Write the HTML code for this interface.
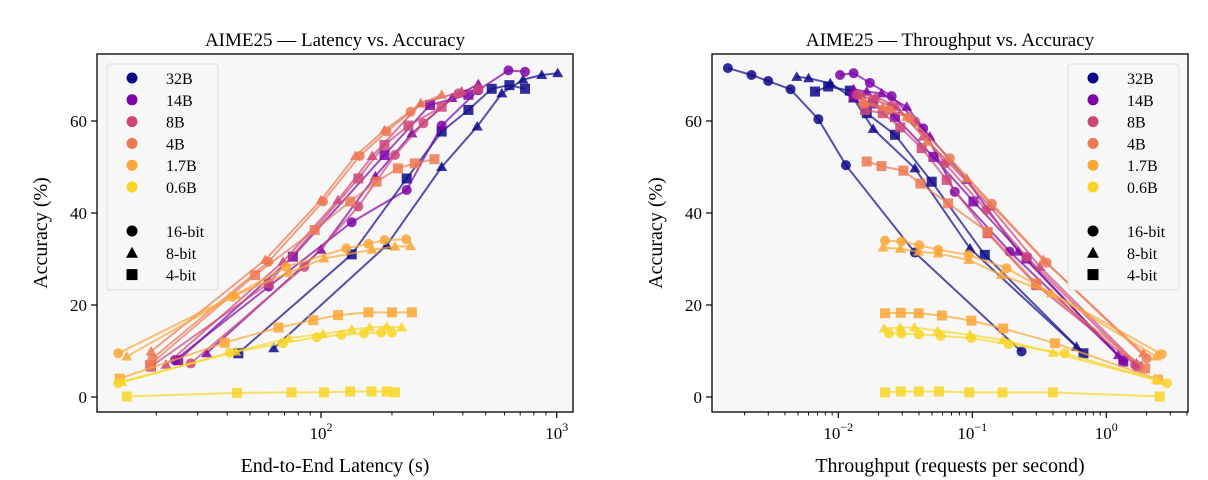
<!DOCTYPE html>
<html><head><meta charset="utf-8">
<style>
body{margin:0;background:#fff;}
svg{display:block;font-family:"Liberation Serif","DejaVu Serif",serif;}
</style></head>
<body>
<svg id="chart" width="1208" height="480" viewBox="0 0 1208 480"></svg>
<script>
// ---------- data ----------
const models = ["32B","14B","8B","4B","1.7B","0.6B"];
const bits = ["16-bit","8-bit","4-bit"];
const modelColors = ["#0d0887","#7e03a8","#cc4778","#ed7953","#fca636","#f8d527"];
const yTicks = [0,20,40,60];

// Latency (s) and accuracy (%) per model/bit: [latency, accuracy]
const latency_32B_16 = [];
const latency_32B_8 = [[63,10.6],[190,33],[325,50],[460,58.8],[585,66],[720,69],[864,70],[1010,70.4]];
const latency_32B_4 = [[44.6,9.5],[135,31],[231,47.5],[325,57.7],[422,62.4],[530,67],[630,67.8],[734,67]];
const latency_14B_16 = [[24,8],[60,24],[135,38],[231,45],[325,59],[465,66.7],[624,71],[734,70.7]];
const latency_14B_8 = [[32.7,9.5],[100,32],[170,48],[243,57.3],[360,65],[465,68]];
const latency_14B_4 = [[24.8,8],[76,30.5],[186,52.6],[290,63.5],[422,65.7]];
const latency_8B_16 = [[28,7.3],[85,28.3],[144,41.4],[206,52.6],[272,59.5],[383,66],[465,67]];
const latency_8B_8 = [[22,7],[69,29.4],[118,42.8],[165,52.4],[265,63.8],[395,66.4]];
const latency_8B_4 = [[19,6.6],[60,24.7],[144,47.5],[186,54.8],[235,59],[325,63.1]];
const latency_4B_16 = [[19.3,8.4],[59.8,29.4],[102,42.5],[146,52.4],[190,57.7],[240,62]];
const latency_4B_8 = [[19,9.9],[58,29.8],[100,42.8],[140,52.4],[186,58],[265,63.8],[325,65.7]];
const latency_4B_4 = [[18.8,7],[52.5,26.5],[94,36.3],[133,42.5],[172,46.8],[212,49.7],[250,50.8],[303,51.7]];
const latency_17B_16 = [[13.8,9.5],[42,21.8],[71,28.3],[128,32.3],[159,33.3],[186,34.1],[230,34.3]];
const latency_17B_8 = [[15,8.8],[43.5,22.2],[73,27],[103,30.1],[165,32],[206,32.7],[240,32.8]];
const latency_17B_4 = [[14,4],[39,11.8],[66,15.1],[92.7,16.7],[118,17.8],[159,18.4],[200,18.4],[243,18.4]];
const latency_06B_16 = [[13.8,3],[41,9.6],[69,11.7],[96,13],[122,13.5],[152,13.8],[180,14],[200,14]];
const latency_06B_8 = [[14.3,3.3],[43.5,9.9],[73,12.8],[102,13.7],[135,14.7],[161,15.1],[190,15.3],[220,15.1]];
const latency_06B_4 = [[15,0.1],[44,0.9],[75,1],[103,1],[133,1.2],[164,1.2],[190,1.2],[206,1]];

// Throughput (req/s) and accuracy (%)
const thr_32B_16 = [[0.0015,71.5],[0.00225,70],[0.003,68.7],[0.0044,66.9],[0.0071,60.4],[0.0114,50.4],[0.0373,31.4],[0.233,9.9]];
const thr_32B_8 = [[0.0049,69.6],[0.006,69.3],[0.0087,68.2],[0.013,64.9],[0.0182,58.3],[0.0373,49.7],[0.096,32.3],[0.6,10.9]];
const thr_32B_4 = [[0.0067,66.4],[0.0084,67.5],[0.0122,66.6],[0.0163,61.7],[0.0265,57],[0.0498,46.8],[0.124,30.9],[0.675,9.5]];
const thr_14B_16 = [[0.0103,70],[0.013,70.4],[0.0172,68.3],[0.025,65.4],[0.043,58.4],[0.074,44.6],[0.19,31.6],[1.34,8]];
const thr_14B_8 = [[0.013,66.9],[0.0163,66.4],[0.021,66],[0.0324,63.1],[0.0483,56.6],[0.091,47.2],[0.22,31.6],[1.23,9.1]];
const thr_14B_4 = [[0.013,65.3],[0.0182,63.8],[0.0265,60.9],[0.0513,52.2],[0.102,42.5],[0.254,30.1],[1.34,7.7]];
const thr_8B_16 = [[0.0137,65.7],[0.0182,64.6],[0.025,63.3],[0.0373,59.9],[0.0625,50.8],[0.127,40.7],[0.254,30.5],[1.64,7]];
const thr_8B_8 = [[0.0148,65.7],[0.019,65.3],[0.0272,63.1],[0.0429,56.6],[0.0644,51.4],[0.136,41.4],[0.32,28.3],[1.68,7.3]];
const thr_8B_4 = [[0.0158,62.4],[0.0215,61.7],[0.029,58.6],[0.0419,54.1],[0.0644,47.2],[0.13,35.6],[0.3,24.3],[1.72,6.6]];
const thr_4B_16 = [[0.0154,63.8],[0.024,62.4],[0.034,60.6],[0.068,51.9],[0.14,42],[0.359,29.2],[2.0,8.4]];
const thr_4B_8 = [[0.0154,64.2],[0.0215,63.1],[0.0324,60.9],[0.046,55.5],[0.091,47.5],[0.339,29.8],[1.89,9.5]];
const thr_4B_4 = [[0.0163,51.2],[0.021,50.2],[0.0306,49.2],[0.041,46.4],[0.066,42.1],[0.13,35.9],[0.3,24.7],[1.95,6.2]];
const thr_17B_16 = [[0.0223,34],[0.0296,33.8],[0.0402,33],[0.0557,32],[0.094,30.9],[0.18,28],[2.59,9.3]];
const thr_17B_8 = [[0.0216,32.5],[0.029,32.2],[0.0398,31.6],[0.0557,31.2],[0.094,29.8],[0.165,26.5],[0.39,22.5],[2.36,8.8]];
const thr_17B_4 = [[0.0223,18.2],[0.0292,18.3],[0.0398,18.2],[0.0593,17.7],[0.0985,16.6],[0.17,14.9],[0.414,11.7],[2.44,3.8]];
const thr_06B_16 = [[0.0239,13.8],[0.0296,13.8],[0.04,13.6],[0.058,13.3],[0.0985,12.8],[0.186,11.5],[0.49,9.5],[2.84,3]];
const thr_06B_8 = [[0.022,14.9],[0.029,15.1],[0.037,15.1],[0.0552,14.4],[0.096,13.5],[0.17,12.4],[0.4,9.6],[2.36,3.7]];
const thr_06B_4 = [[0.0223,1],[0.0292,1.2],[0.0398,1.2],[0.0563,1.2],[0.095,1],[0.168,1],[0.4,1],[2.5,0.1]];

const latencySeries = [
 [latency_32B_16,latency_32B_8,latency_32B_4],[latency_14B_16,latency_14B_8,latency_14B_4],
 [latency_8B_16,latency_8B_8,latency_8B_4],[latency_4B_16,latency_4B_8,latency_4B_4],
 [latency_17B_16,latency_17B_8,latency_17B_4],[latency_06B_16,latency_06B_8,latency_06B_4]];
const thrSeries = [
 [thr_32B_16,thr_32B_8,thr_32B_4],[thr_14B_16,thr_14B_8,thr_14B_4],
 [thr_8B_16,thr_8B_8,thr_8B_4],[thr_4B_16,thr_4B_8,thr_4B_4],
 [thr_17B_16,thr_17B_8,thr_17B_4],[thr_06B_16,thr_06B_8,thr_06B_4]];

// ---------- drawing ----------
const NS="http://www.w3.org/2000/svg";
const svg=document.getElementById('chart');
function mk(tag,attrs,parent){const e=document.createElementNS(NS,tag);for(const k in attrs)e.setAttribute(k,attrs[k]);(parent||svg).appendChild(e);return e;}

function drawPanel(cfg){
  const g=mk('g',{});
  
  
  const L=cfg.left,R=cfg.right,T=54,B=412;
  const xs=v=>cfg.x0+cfg.dec*Math.log10(v/cfg.ref);
  const ys=v=>397-4.6*v;
  const bg=mk('rect',{x:L,y:T,width:R-L,height:B-T,fill:'#f7f7f7'},g);
  
  
  // minor + major x ticks
  for(let e=cfg.emin;e<=cfg.emax;e++){
    for(let m=1;m<10;m++){
      const v=Math.pow(10,e)*m;const px=xs(v);
      if(px<L||px>R)continue;
      mk('line',{x1:px,x2:px,y1:B,y2:B+(m===1?6:3.5),stroke:'#000','stroke-width':m===1?1.2:0.9},g);
      if(m===1){
        const t=mk('text',{x:px,y:B+27,'text-anchor':'middle','font-size':17},g);
        
        
        t.textContent='10';
        const s=mk('tspan',{dy:-8,'font-size':12},t);s.textContent=e<0?'\u2212'+(-e):String(e);
      }
    }
  }
  yTicks.forEach(v=>{
    const py=ys(v);
    mk('line',{x1:L-6,x2:L,y1:py,y2:py,stroke:'#000','stroke-width':1.2},g);
    const t=mk('text',{x:L-10,y:py+6,'text-anchor':'end','font-size':17},g);
    
    
    t.textContent=v;
  });
  // series
  cfg.series.forEach((arr3,mi)=>{
    arr3.forEach((pts,bi)=>{
      if(!pts.length)return;
      const sg=mk('g',{},g);
      
      
      const d=pts.map((p,i)=>(i?'L':'M')+xs(p[0]).toFixed(1)+','+ys(p[1]).toFixed(1)).join('');
      mk('path',{d:d,fill:'none',stroke:modelColors[mi],'stroke-width':2,'stroke-opacity':0.7},sg);
      pts.forEach(p=>{
        const cx=xs(p[0]),cy=ys(p[1]);let m;
        if(bi===0)m=mk('circle',{cx:cx,cy:cy,r:5,fill:modelColors[mi],'fill-opacity':0.85},sg);
        else if(bi===1)m=mk('path',{d:`M${cx},${cy-5.5}L${cx+5.5},${cy+4}L${cx-5.5},${cy+4}Z`,fill:modelColors[mi],'fill-opacity':0.85},sg);
        else m=mk('rect',{x:cx-5,y:cy-5,width:10,height:10,fill:modelColors[mi],'fill-opacity':0.85},sg);
        
        
      });
    });
  });
  const fr=mk('rect',{x:L,y:T,width:R-L,height:B-T,fill:'none',stroke:'#000','stroke-width':1.3},g);
  
  
  // legend
  const lg=mk('g',{},g);
  
  
  const lx=cfg.legX;
  mk('rect',{x:lx,y:64,width:111,height:226,rx:3,fill:'#f7f7f7',stroke:'#ddd','stroke-width':1},lg);
  models.forEach((m,i)=>{
    const y=78+i*21.8;
    const c=mk('circle',{cx:lx+25,cy:y,r:5.5,fill:modelColors[i]},lg);
    
    
    const t=mk('text',{x:lx+59,y:y+6,'font-size':16},lg);
    
    
    t.textContent=m;
  });
  bits.forEach((b,i)=>{
    const y=231+i*21.8,cx=lx+25;
    let mm;
    if(i===0)mm=mk('circle',{cx:cx,cy:y,r:5.5,fill:'#000'},lg);
    else if(i===1)mm=mk('path',{d:`M${cx},${y-6}L${cx+6},${y+5}L${cx-6},${y+5}Z`,fill:'#000'},lg);
    else mm=mk('rect',{x:cx-5.5,y:y-5.5,width:11,height:11,fill:'#000'},lg);
    
    
    const t=mk('text',{x:lx+59,y:y+6,'font-size':16},lg);
    
    
    t.textContent=b;
  });
  const tt=mk('text',{x:(L+R)/2,y:46,'text-anchor':'middle','font-size':19},g);
  
  
  tt.textContent=cfg.title;
  const xl=mk('text',{x:(L+R)/2,y:472,'text-anchor':'middle','font-size':20},g);
  
  
  xl.textContent=cfg.xlabel;
  const yl=mk('text',{x:0,y:0,'text-anchor':'middle','font-size':20,transform:`translate(${L-50},${(T+B)/2}) rotate(-90)`},g);
  
  
  yl.textContent='Accuracy (%)';
}
drawPanel({name:'latency-panel',left:97,right:573,x0:321,dec:235.7,ref:100,emin:1,emax:3,series:latencySeries,legX:107,
  title:'AIME25 \u2014 Latency vs. Accuracy',xlabel:'End-to-End Latency (s)'});
drawPanel({name:'throughput-panel',left:712,right:1188,x0:838.3,dec:134,ref:0.01,emin:-3,emax:0,series:thrSeries,legX:1068,
  title:'AIME25 \u2014 Throughput vs. Accuracy',xlabel:'Throughput (requests per second)'});
</script>
</body></html>
